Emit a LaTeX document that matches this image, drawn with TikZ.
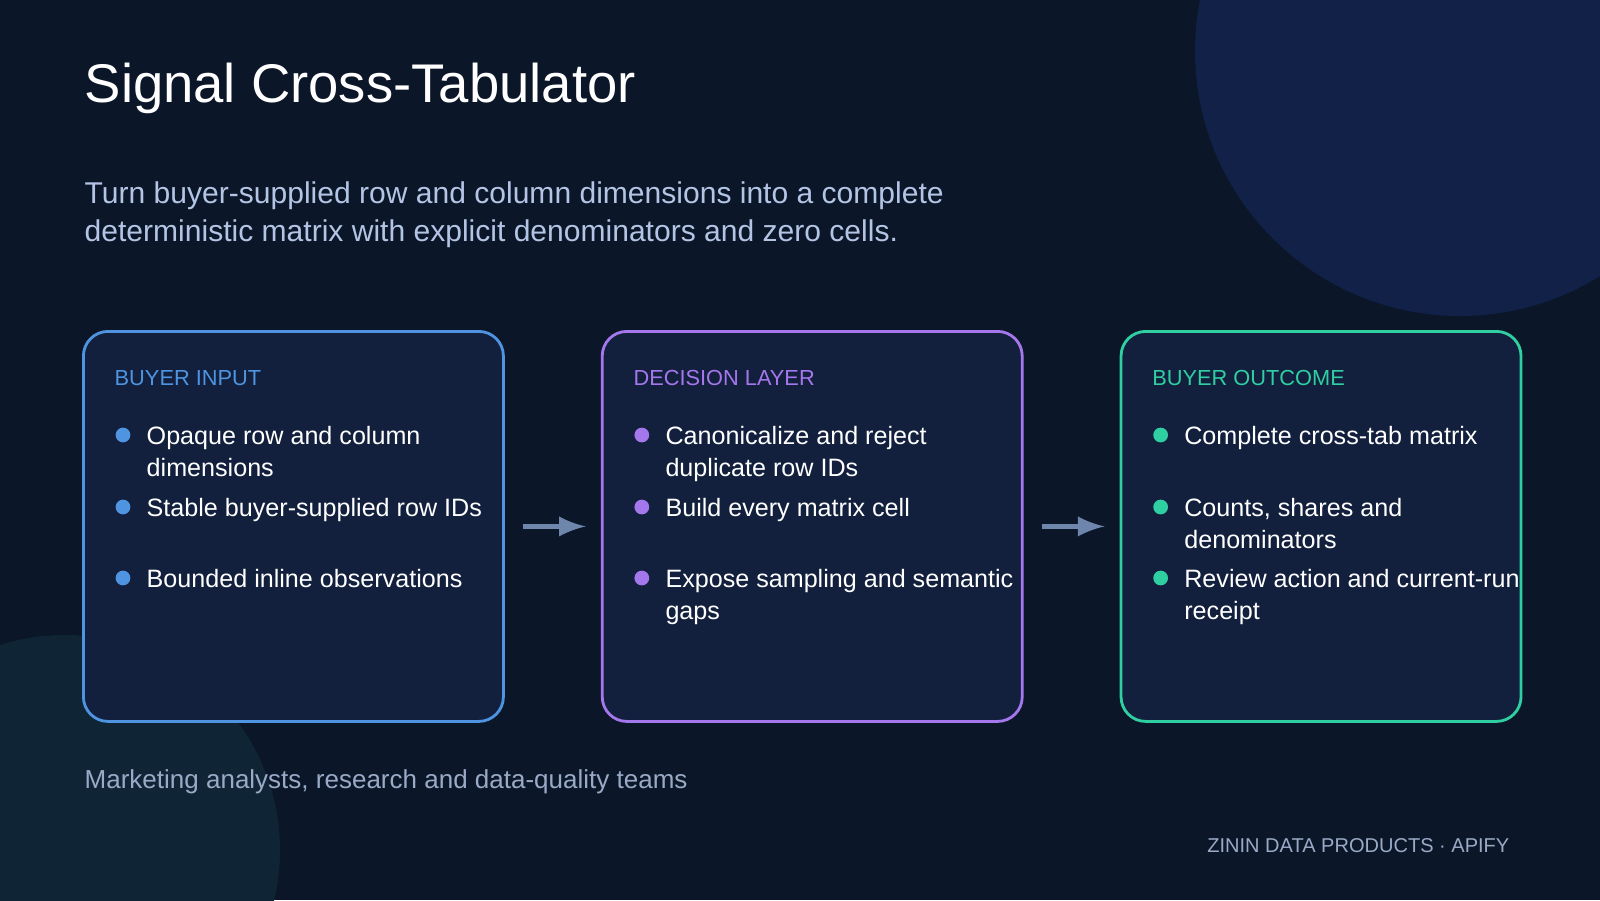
\documentclass[tikz,border=0pt]{standalone}
\usepackage{fontspec}
\setmainfont{Liberation Sans}
\usetikzlibrary{positioning,calc}
\definecolor{bgdark}{HTML}{0B1628}
\definecolor{bgcircA}{HTML}{112148}
\definecolor{bgcircB}{HTML}{0F2536}
\definecolor{cardfill}{HTML}{12203D}
\definecolor{inblue}{HTML}{4E94E0}
\definecolor{decpurple}{HTML}{A577EC}
\definecolor{outteal}{HTML}{2FCFA2}
\definecolor{subgray}{HTML}{B4C4E4}
\definecolor{footgray}{HTML}{9AAAC6}
\definecolor{arrowgray}{HTML}{6F86AC}
\tikzset{
	card/.style={draw=#1, line width=0.8pt, fill=cardfill, rounded corners=7pt,
		minimum width=4.2cm, minimum height=3.9cm, anchor=north west, inner sep=0pt},
	head/.style={text=#1, anchor=base west, inner sep=0pt, font=\fontsize{6.2}{7}\selectfont},
	item/.style={text=white, anchor=base west, inner sep=0pt, font=\fontsize{7.15}{8}\selectfont},
	dot/.style={circle, fill=#1, inner sep=0pt, minimum size=4.2pt},
	flow/.style={-latex, line width=1.6pt, draw=arrowgray, shorten <=0.18cm, shorten >=0.15cm}
}
\begin{document}
\begin{tikzpicture}[x=1cm,y=1cm]
	\useasboundingbox (0,0) rectangle (16,-9);
	\fill[bgdark] (0,0) rectangle (16,-9);
	\begin{scope}
		\clip (0,0) rectangle (16,-9);
		\fill[bgcircA] (14.6,-0.51) circle (2.65);%top right
		\fill[bgcircB] (0.65,-8.5) circle (2.15);%bottom left
	\end{scope}

	\node[text=white, anchor=base west, inner sep=0pt, font=\fontsize{15.5}{18}\selectfont] (title) at (0.84,-1.02) {Signal Cross-Tabulator};
	\node[text=subgray, anchor=base west, inner sep=0pt, font=\fontsize{8.55}{10}\selectfont] (sub1) at (0.84,-2.03) {Turn buyer-supplied row and column dimensions into a complete};
	\node[text=subgray, anchor=base west, inner sep=0pt, font=\fontsize{8.55}{10}\selectfont] (sub2) at (0.84,-2.41) {deterministic matrix with explicit denominators and zero cells.};

	% cards
	\node[card=inblue] (in) at (0.82,-3.30) {};
	\node[card=decpurple, right=0.96cm of in] (dec) {};
	\node[card=outteal, right=0.96cm of dec, minimum width=4.0cm] (out) {};

	\draw[flow] (in.east) -- (dec.west);
	\draw[flow] (dec.east) -- (out.west);

	% buyer input
	\node[head=inblue] (inh) at ($(in.north west)+(0.32,-0.55)$) {BUYER INPUT};
	\foreach \y/\t/\u in {1.14/Opaque row and column/dimensions, 1.86/Stable buyer-supplied row IDs/, 2.57/Bounded inline observations/}{
		\node[dot=inblue] at ($(in.north west)+(0.41,-\y+0.09)$) {};
		\node[item] at ($(in.north west)+(0.64,-\y)$) {\t};
		\node[item] at ($(in.north west)+(0.64,-\y-0.325)$) {\u};
	}

	% decision layer
	\node[head=decpurple] (dech) at ($(dec.north west)+(0.32,-0.55)$) {DECISION LAYER};
	\foreach \y/\t/\u in {1.14/Canonicalize and reject/duplicate row IDs, 1.86/Build every matrix cell/, 2.57/Expose sampling and semantic/gaps}{
		\node[dot=decpurple] at ($(dec.north west)+(0.41,-\y+0.09)$) {};
		\node[item] at ($(dec.north west)+(0.64,-\y)$) {\t};
		\node[item] at ($(dec.north west)+(0.64,-\y-0.325)$) {\u};
	}

	% buyer outcome
	\node[head=outteal] (outh) at ($(out.north west)+(0.32,-0.55)$) {BUYER OUTCOME};
	\foreach \y/\t/\u in {1.14/Complete cross-tab matrix/, 1.86/{Counts, shares and}/denominators, 2.57/Review action and current-run/receipt}{
		\node[dot=outteal] at ($(out.north west)+(0.41,-\y+0.09)$) {};
		\node[item] at ($(out.north west)+(0.64,-\y)$) {\t};
		\node[item] at ($(out.north west)+(0.64,-\y-0.325)$) {\u};
	}

	\node[text=footgray, anchor=base west, inner sep=0pt, font=\fontsize{7.4}{9}\selectfont] (aud) at (0.84,-7.88) {Marketing analysts, research and data-quality teams};
	\node[text=footgray, anchor=base east, inner sep=0pt, font=\fontsize{5.7}{7}\selectfont] (brand) at (15.10,-8.52) {ZININ DATA PRODUCTS · APIFY};
\end{tikzpicture}
\end{document}
